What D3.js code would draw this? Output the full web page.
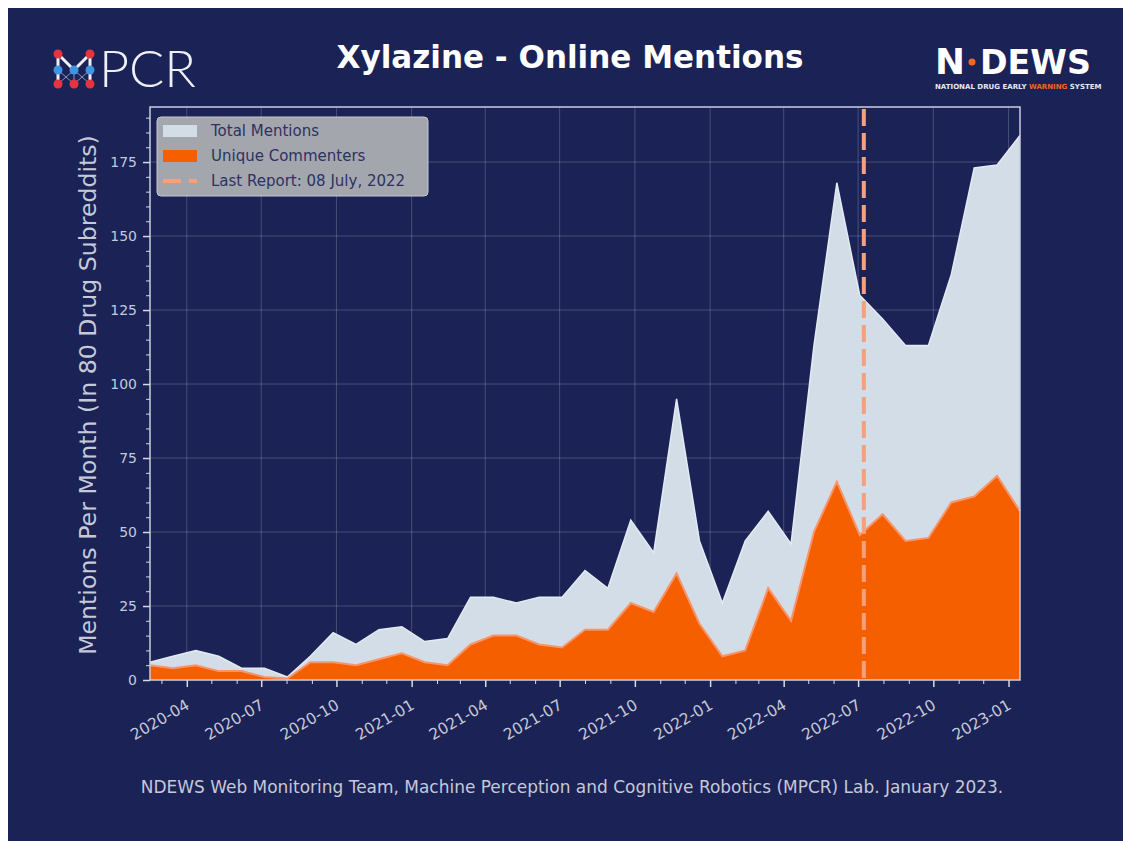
<!DOCTYPE html>
<html lang="en">
<head>
<meta charset="UTF-8" />
<script src="https://d3js.org/d3.v7.min.js"></script>
<style>
  body { margin: 0; background: #fff; }
  text { font-family: "DejaVu Sans", sans-serif; }
</style>
</head>
<body>
<div id="chart"></div>
<script>
// 4-week bins
var dates = ["2020-02-16","2020-03-15","2020-04-12","2020-05-10","2020-06-07","2020-07-05",
  "2020-08-02","2020-08-30","2020-09-27","2020-10-25","2020-11-22","2020-12-20",
  "2021-01-17","2021-02-14","2021-03-14","2021-04-11","2021-05-09","2021-06-06",
  "2021-07-04","2021-08-01","2021-08-29","2021-09-26","2021-10-24","2021-11-21",
  "2021-12-19","2022-01-16","2022-02-13","2022-03-13","2022-04-10","2022-05-08",
  "2022-06-05","2022-07-03","2022-07-31","2022-08-28","2022-09-25","2022-10-23",
  "2022-11-20","2022-12-18","2023-01-15"];
var totalMentions = [6, 8, 10, 8, 4, 4, 1, 8, 16, 12, 17, 18, 13, 14, 28, 28, 26, 28, 28, 37,
  31, 54, 43, 95, 47, 26, 47, 57, 46, 113, 168, 130, 122, 113, 113, 137, 173, 174, 184];
var uniqueCommenters = [5, 4, 5, 3, 3, 1, 0.5, 6, 6, 5, 7, 9, 6, 5, 12, 15, 15, 12, 11, 17,
  17, 26, 23, 36, 19, 8, 10, 31, 20, 50, 67, 49, 56, 47, 48, 60, 62, 69, 57];
var yTicks = [0, 25, 50, 75, 100, 125, 150, 175];
var lastReport = "2022-07-08";
var legendLabels = ["Total Mentions", "Unique Commenters", "Last Report: 08 July, 2022"];

var W = 1123, H = 841;
var navy = "#1b2255";
var parse = d3.timeParse("%Y-%m-%d");
var data = dates.map(function(d, i) {
  return { date: parse(d), total: totalMentions[i], unique: uniqueCommenters[i] };
});

var svg = d3.select("#chart").append("svg")
  .attr("width", W).attr("height", H);

svg.append("rect").attr("width", W).attr("height", H).attr("fill", "#fff");
svg.append("rect").attr("x", 8).attr("y", 8).attr("width", W - 8).attr("height", H - 8).attr("fill", navy);

// scale font so the text spans a given width
function fit(sel, w) {
  var fs = parseFloat(sel.attr("font-size"));
  var cur = sel.node().getComputedTextLength();
  sel.attr("font-size", fs * w / cur);
}

var pLeft = 150, pRight = 1020, pTop = 107, pBottom = 680;

var x = d3.scaleTime()
  .domain([data[0].date, data[data.length - 1].date])
  .range([pLeft, pRight]);
var y = d3.scaleLinear()
  .domain([0, 193.6])
  .range([pBottom, pTop]);

var plot = svg.append("g");

// grid
var majorX = d3.timeMonth.every(3).range(new Date(2020, 2, 1), new Date(2023, 1, 1));
majorX = majorX.filter(function(d) { return x(d) >= pLeft && x(d) <= pRight; });
plot.selectAll(".gx").data(majorX).enter().append("line")
  .attr("x1", function(d) { return x(d); }).attr("x2", function(d) { return x(d); })
  .attr("y1", pTop).attr("y2", pBottom)
  .attr("stroke", "rgba(255,255,255,0.2)").attr("stroke-width", 1);
plot.selectAll(".gy").data(yTicks).enter().append("line")
  .attr("x1", pLeft).attr("x2", pRight)
  .attr("y1", function(d) { return y(d); }).attr("y2", function(d) { return y(d); })
  .attr("stroke", "rgba(255,255,255,0.2)").attr("stroke-width", 1);

// areas
var areaTotal = d3.area().x(function(d) { return x(d.date); }).y0(y(0)).y1(function(d) { return y(d.total); });
var areaUnique = d3.area().x(function(d) { return x(d.date); }).y0(y(0)).y1(function(d) { return y(d.unique); });
var lineTotal = d3.line().x(function(d) { return x(d.date); }).y(function(d) { return y(d.total); });
var lineUnique = d3.line().x(function(d) { return x(d.date); }).y(function(d) { return y(d.unique); });

plot.append("path").datum(data).attr("d", areaTotal).attr("fill", "#d3dde8");
plot.append("path").datum(data).attr("d", lineTotal).attr("fill", "none")
  .attr("stroke", "#e3eaf2").attr("stroke-width", 1.5);
plot.append("path").datum(data).attr("d", areaUnique).attr("fill", "#f55f00");
plot.append("path").datum(data).attr("d", lineUnique).attr("fill", "none")
  .attr("stroke", "#f8946a").attr("stroke-width", 2);

// last report line
plot.append("line")
  .attr("x1", x(parse(lastReport))).attr("x2", x(parse(lastReport)))
  .attr("y1", pTop + 2).attr("y2", pBottom)
  .attr("stroke", "#f6a07c").attr("stroke-width", 4)
  .attr("stroke-dasharray", "17,7");

// frame
plot.append("rect").attr("x", pLeft).attr("y", pTop)
  .attr("width", pRight - pLeft).attr("height", pBottom - pTop)
  .attr("fill", "none").attr("stroke", "#c9cedd").attr("stroke-width", 1.5);

var tickCol = "#d6d9e4", labCol = "#c5c9d8";

// x axis
var xAxis = d3.axisBottom(x).tickValues(majorX).tickFormat(d3.timeFormat("%Y-%m"))
  .tickSize(7).tickPadding(6);
var gx = svg.append("g").attr("transform", "translate(0," + pBottom + ")").call(xAxis);
gx.select(".domain").remove();
gx.selectAll(".tick line").attr("stroke", tickCol).attr("stroke-width", 1.5);
gx.selectAll(".tick text")
  .attr("fill", labCol).attr("font-size", 15.5)
  .attr("text-anchor", "end")
  .attr("dy", "0.95em").attr("dx", "-0.3em")
  .attr("transform", "rotate(-30,0,13)");

var minorX = d3.timeMonth.range(data[0].date, data[data.length - 1].date)
  .filter(function(d) { return d.getMonth() % 3 !== 0; });
var gxm = svg.append("g").attr("transform", "translate(0," + pBottom + ")")
  .call(d3.axisBottom(x).tickValues(minorX).tickSize(4).tickFormat(""));
gxm.select(".domain").remove();
gxm.selectAll(".tick line").attr("stroke", tickCol).attr("stroke-width", 1);

// y axis
var gy = svg.append("g").attr("transform", "translate(" + pLeft + ",0)")
  .call(d3.axisLeft(y).tickValues(yTicks).tickSize(7).tickPadding(6));
gy.select(".domain").remove();
gy.selectAll(".tick line").attr("stroke", tickCol).attr("stroke-width", 1.5);
gy.selectAll(".tick text").attr("fill", labCol).attr("font-size", 14);

var minorY = d3.range(5, 193, 5).filter(function(d) { return d % 25 !== 0; });
var gym = svg.append("g").attr("transform", "translate(" + pLeft + ",0)")
  .call(d3.axisLeft(y).tickValues(minorY).tickSize(4).tickFormat(""));
gym.select(".domain").remove();
gym.selectAll(".tick line").attr("stroke", tickCol).attr("stroke-width", 1);

// y label
var yl = svg.append("text")
  .attr("transform", "translate(96,395) rotate(-90)")
  .attr("text-anchor", "middle")
  .attr("fill", labCol).attr("font-size", 19)
  .text("Mentions Per Month (In 80 Drug Subreddits)");
fit(yl, 520);

// legend
var lg = svg.append("g");
lg.append("rect").attr("x", 157).attr("y", 117).attr("width", 271).attr("height", 79)
  .attr("rx", 4).attr("fill", "#a4a6ae").attr("stroke", "#c6c8ce").attr("stroke-width", 1);
var ly = [131, 156, 181];
lg.append("rect").attr("x", 163).attr("y", ly[0] - 6).attr("width", 34).attr("height", 12).attr("fill", "#d3dde8");
lg.append("rect").attr("x", 163).attr("y", ly[1] - 6).attr("width", 34).attr("height", 12).attr("fill", "#f55f00");
lg.append("line").attr("x1", 163).attr("x2", 197).attr("y1", ly[2]).attr("y2", ly[2])
  .attr("stroke", "#f6a07c").attr("stroke-width", 4).attr("stroke-dasharray", "18,8");
lg.selectAll(".lt").data(legendLabels).enter().append("text")
  .attr("x", 211).attr("y", function(d, i) { return ly[i]; })
  .attr("dy", "0.35em").attr("font-size", 15).attr("fill", "#2c3262")
  .text(function(d) { return d; });

// title
var title = svg.append("text").attr("x", 570).attr("y", 68).attr("text-anchor", "middle")
  .attr("fill", "#fff").attr("font-weight", "bold").attr("font-size", 27)
  .text("Xylazine - Online Mentions");
fit(title, 467);

// footer
var foot = svg.append("text").attr("x", 572).attr("y", 793).attr("text-anchor", "middle")
  .attr("fill", labCol).attr("font-size", 14)
  .text("NDEWS Web Monitoring Team, Machine Perception and Cognitive Robotics (MPCR) Lab. January 2023.");
fit(foot, 863);

// MPCR logo
var mp = svg.append("g");
var segs = [[58,54,58,84],[90,54,90,84],[58,54,74,70],[74,70,90,54],
  [58,70,74,84],[74,70,58,84],[74,70,90,84],[90,70,74,84],[74,70,74,84]];
mp.selectAll("line").data(segs).enter().append("line")
  .attr("x1", function(d) { return d[0]; }).attr("y1", function(d) { return d[1]; })
  .attr("x2", function(d) { return d[2]; }).attr("y2", function(d) { return d[3]; })
  .attr("stroke", function(d, i) { return i < 4 ? "#eef0f6" : "#8a93b8"; })
  .attr("stroke-width", function(d, i) { return i < 4 ? 3 : 1; });
var nodes = [[58,54,"r"],[90,54,"r"],[58,70,"b"],[74,70,"b"],[90,70,"b"],[58,84,"r"],[74,84,"r"],[90,84,"r"]];
mp.selectAll("circle").data(nodes).enter().append("circle")
  .attr("cx", function(d) { return d[0]; }).attr("cy", function(d) { return d[1]; })
  .attr("r", 4.5).attr("fill", function(d) { return d[2] === "r" ? "#e5333f" : "#3f94e4"; });
var pcr = mp.append("text").attr("x", 99).attr("y", 87).attr("fill", "#eef0f6")
  .attr("font-size", 44).attr("font-weight", 300)
  .style("font-family", "Lato, sans-serif").text("PCR");
fit(pcr, 97);

// NDEWS logo
var nd = svg.append("g");
var nN = nd.append("text").attr("x", 935).attr("y", 74).attr("fill", "#fff")
  .attr("font-size", 34).attr("font-weight", "bold").text("N");
fit(nN, 30);
nd.append("circle").attr("cx", 972).attr("cy", 62).attr("r", 3.5).attr("fill", "#f26522");
var nD = nd.append("text").attr("x", 980).attr("y", 74).attr("fill", "#fff")
  .attr("font-size", 34).attr("font-weight", "bold").text("DEWS");
fit(nD, 111);
var sub = nd.append("text").attr("x", 935).attr("y", 89).attr("font-size", 6.5)
  .attr("font-weight", "bold").attr("fill", "#e6e8ee");
sub.append("tspan").text("NATIONAL DRUG EARLY ");
sub.append("tspan").attr("fill", "#f26522").text("WARNING");
sub.append("tspan").text(" SYSTEM");
fit(sub, 167);
</script>
</body>
</html>
